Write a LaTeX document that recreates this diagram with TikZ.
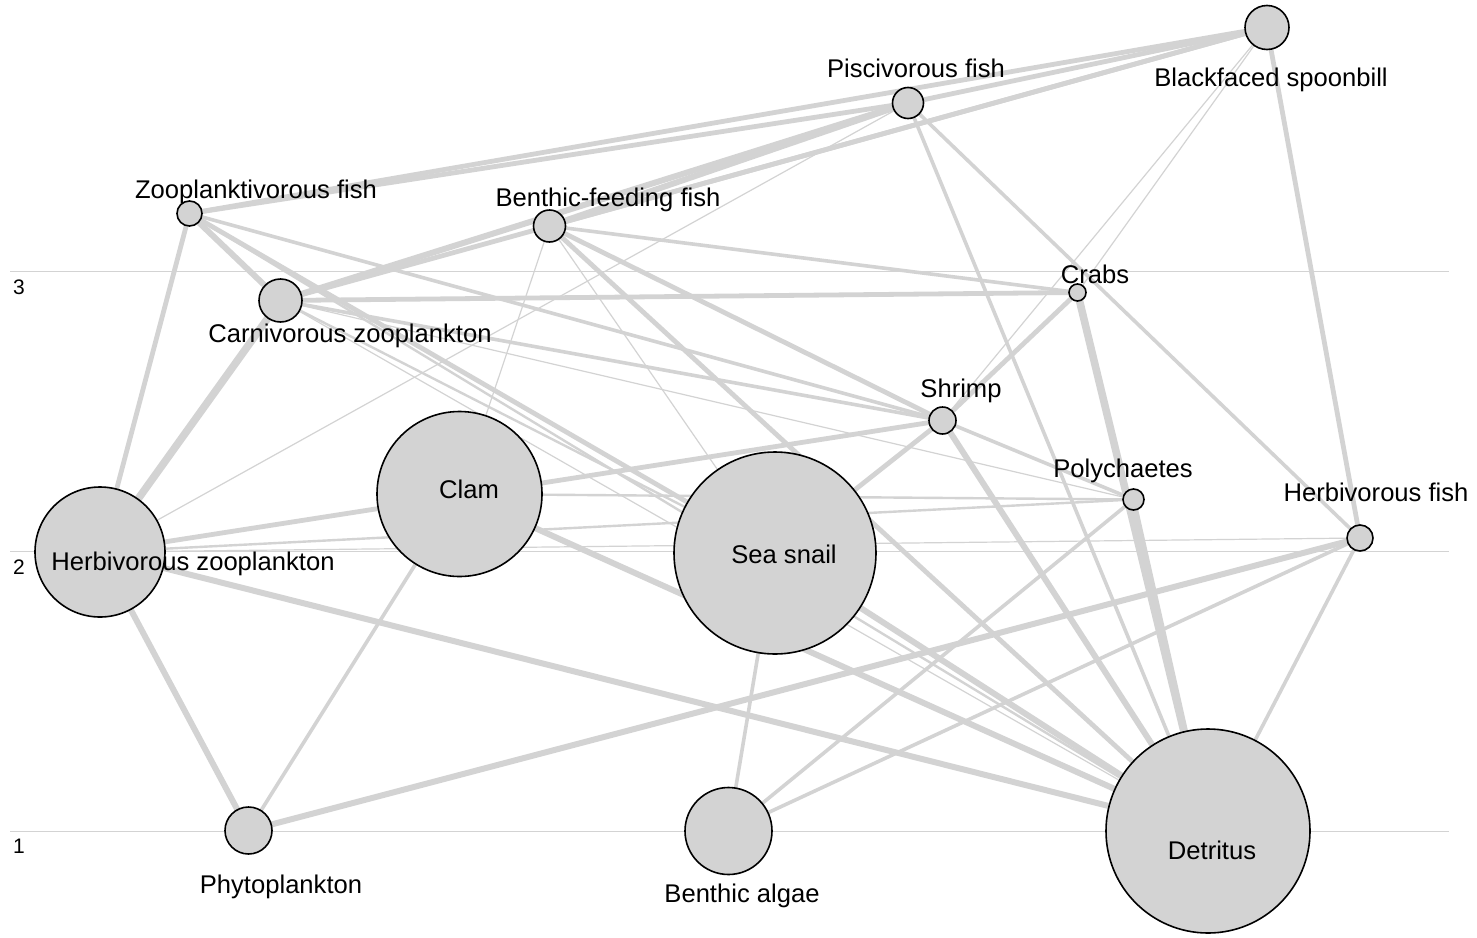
\documentclass[tikz,border=0pt]{standalone}
\usepackage{fontspec}
\setmainfont{Liberation Sans}
\definecolor{webgray}{RGB}{211,211,211}
\pgfdeclarelayer{background}
\pgfsetlayers{background,main}

\begin{document}
\begin{tikzpicture}[x=0.5pt, y=-0.5pt]
    \tikzstyle{web vertex} = [circle,draw=black,fill=webgray,line width=0.8pt,inner sep=0pt,outer sep=0pt]
    \tikzstyle{web label} = [font=\fontsize{12.8}{14}\selectfont,anchor=base,inner sep=0pt]
    \tikzstyle{level label} = [font=\fontsize{10.5}{12}\selectfont,anchor=base,inner sep=0pt]
    \tikzstyle{level line} = [draw=webgray,line width=0.7pt]
    \tikzstyle{web edge} = [draw=webgray,line width=1.8pt]
    \tikzstyle{web edge faint} = [web edge,line width=0.6pt]
    \tikzstyle{web edge light} = [web edge,line width=1.2pt]
    \tikzstyle{web edge heavy} = [web edge,line width=2.4pt]
    \tikzstyle{web edge bulky} = [web edge,line width=3pt]
    \tikzstyle{web edge massive} = [web edge,line width=3.8pt]
\useasboundingbox (0,0) rectangle (1477,937);
\node[web vertex, minimum size=22pt] (bs) at (1267, 27.5) {};
\node[web vertex, minimum size=15.5pt] (pf) at (908, 103) {};
\node[web vertex, minimum size=12.5pt] (zf) at (189.5, 213.5) {};
\node[web vertex, minimum size=16pt] (bf) at (549.5, 226) {};
\node[web vertex, minimum size=21.5pt] (cz) at (280.5, 300.5) {};
\node[web vertex, minimum size=8.5pt] (crabs) at (1077.5, 292.5) {};
\node[web vertex, minimum size=13.5pt] (shrimp) at (942.5, 420.5) {};
\node[web vertex, minimum size=10.5pt] (poly) at (1133.5, 499.5) {};
\node[web vertex, minimum size=13pt] (hf) at (1360, 538) {};
\node[web vertex, minimum size=82.5pt] (clam) at (459.5, 494) {};
\node[web vertex, minimum size=101pt] (snail) at (775, 553) {};
\node[web vertex, minimum size=65pt] (hz) at (100, 552) {};
\node[web vertex, minimum size=23.5pt] (pp) at (248.5, 830.5) {};
\node[web vertex, minimum size=43.5pt] (ba) at (728.5, 831) {};
\node[web vertex, minimum size=102pt] (det) at (1208, 831) {};
% trophic levels
\coordinate (l3a) at (10, 271.5); \coordinate (l3b) at (1449, 271.5);
\coordinate (l2a) at (10, 551.5); \coordinate (l2b) at (1449, 551.5);
\coordinate (l1a) at (10, 831.5); \coordinate (l1b) at (1449, 831.5);
\node[level label] (lv3) at (19, 294) {3};
\node[level label] (lv2) at (19, 574) {2};
\node[level label] (lv1) at (19, 853) {1};
% species names
\node[web label] (bs-name) at (1271, 86) {Blackfaced spoonbill};
\node[web label] (pf-name) at (916, 77) {Piscivorous fish};
\node[web label] (zf-name) at (256, 198) {Zooplanktivorous fish};
\node[web label] (bf-name) at (608, 206) {Benthic-feeding fish};
\node[web label] (cz-name) at (350, 342) {Carnivorous zooplankton};
\node[web label] (crabs-name) at (1095, 283) {Crabs};
\node[web label] (shrimp-name) at (961, 397) {Shrimp};
\node[web label] (poly-name) at (1123, 477) {Polychaetes};
\node[web label] (hf-name) at (1376, 501) {Herbivorous fish};
\node[web label] (clam-name) at (469, 498) {Clam};
\node[web label] (snail-name) at (784, 563) {Sea snail};
\node[web label] (hz-name) at (193, 570) {Herbivorous zooplankton};
\node[web label] (pp-name) at (281, 893) {Phytoplankton};
\node[web label] (ba-name) at (742, 902) {Benthic algae};
\node[web label] (det-name) at (1212, 859) {Detritus};
\begin{pgfonlayer}{background}
\draw[level line] (l3a) -- (l3b);
\draw[level line] (l2a) -- (l2b);
\draw[level line] (l1a) -- (l1b);
\draw[web edge heavy] (zf) to (bs);
\draw[web edge heavy] (zf) to (pf);
\draw[web edge heavy] (pf) to (bs);
\draw[web edge heavy] (bf) to (bs);
\draw[web edge heavy] (cz) to (bs);
\draw[web edge bulky] (bf) to (pf);
\draw[web edge bulky] (cz) to (pf);
\draw[web edge faint] (hz) to (pf);
\draw[web edge] (pf) to (hf);
\draw[web edge] (pf) to (det);
\draw[web edge faint] (bs) to (crabs);
\draw[web edge faint] (bs) to (shrimp);
\draw[web edge heavy] (bs) to (hf);
\draw[web edge bulky] (zf) to (cz);
\draw[web edge heavy] (zf) to (hz);
\draw[web edge] (zf) to (shrimp);
\draw[web edge heavy] (zf) to (snail);
\draw[web edge light] (zf) to (det);
\draw[web edge massive] (cz) to (hz);
\draw[web edge heavy] (cz) to (crabs);
\draw[web edge] (cz) to (shrimp);
\draw[web edge faint] (cz) to (poly);
\draw[web edge light] (cz) to (snail);
\draw[web edge faint] (cz) to (det);
\draw[web edge] (bf) to (crabs);
\draw[web edge heavy] (bf) to (shrimp);
\draw[web edge heavy] (bf) to (det);
\draw[web edge faint] (bf) to (snail);
\draw[web edge faint] (bf) to (clam);
\draw[web edge heavy] (hz) to (shrimp);
\draw[web edge light] (hz) to (poly);
\draw[web edge faint] (hz) to (hf);
\draw[web edge bulky] (hz) to (det);
\draw[web edge bulky] (hz) to (pp);
\draw[web edge] (clam) to (pp);
\draw[web edge bulky] (clam) to (det);
\draw[web edge light] (clam) to (poly);
\draw[web edge heavy] (snail) to (shrimp);
\draw[web edge] (snail) to (ba);
\draw[web edge bulky] (snail) to (det);
\draw[web edge heavy] (shrimp) to (crabs);
\draw[web edge] (shrimp) to (poly);
\draw[web edge bulky] (shrimp) to (det);
\draw[web edge massive] (crabs) to (det);
\draw[web edge heavy] (poly) to (det);
\draw[web edge] (hf) to (det);
\draw[web edge] (ba) to (poly);
\draw[web edge] (ba) to (hf);
\draw[web edge bulky] (pp) to (hf);
\end{pgfonlayer}
\end{tikzpicture}
\end{document}
